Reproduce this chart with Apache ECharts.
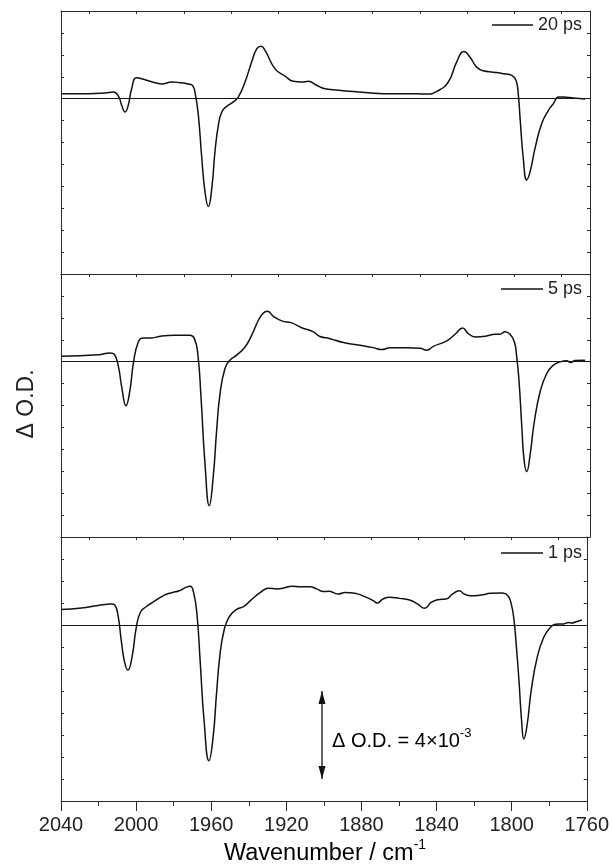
<!DOCTYPE html>
<html><head><meta charset="utf-8">
<script src="https://cdn.jsdelivr.net/npm/echarts@6/dist/echarts.min.js"></script>
<style>html,body{margin:0;padding:0;background:#fff}#c{width:612px;height:866px}</style>
</head><body><div id="c"></div>
<script>
// ---- data (ΔOD in units of 1e-3) ----
const wn20=[2040,2025.5,2016.7,2012.3,2009.6,2007.9,2006.1,2004.4,2002.6,2000,1995.5,1990.2,1986.7,1981.4,1977,1972.6,1970.5,1969.1,1967.3,1965.6,1963.8,1962,1960.2,1958.5,1956.7,1954.9,1952.3,1948.8,1946.1,1942.6,1939.1,1936.4,1934.1,1932,1926.7,1921.4,1917,1912.6,1909.1,1904.7,1900.2,1895.8,1885.3,1869.4,1857,1846.4,1841.1,1835,1830.6,1826.7,1823.5,1820,1816.4,1811.1,1805.8,1801.4,1799.1,1797.9,1797,1795.3,1793.5,1791.7,1789.1,1785.6,1782,1779.4,1776.7,1774.1,1768.8,1762.6];
const od20=[0.23,0.23,0.26,0.30,0.12,-0.30,-0.61,-0.30,0.45,0.95,0.86,0.73,0.67,0.76,0.73,0.67,0.61,0.30,-0.76,-2.58,-4.24,-4.92,-4.09,-2.42,-1.21,-0.61,-0.35,-0.15,0.08,0.76,1.67,2.27,2.39,2.20,1.36,1.03,0.79,0.76,0.79,0.61,0.45,0.41,0.33,0.23,0.23,0.21,0.33,0.76,1.67,2.15,1.89,1.44,1.27,1.21,1.14,1.06,0.83,0.15,-0.91,-2.73,-3.71,-3.33,-2.27,-1.14,-0.53,-0.23,0.08,0.08,0.03,-0.02];

const wn5=[2040,2020.2,2014,2011.8,2009.6,2007.9,2005.6,2003.5,2001.7,1999.1,1996.5,1992.9,1986.7,1979.6,1971.7,1969.4,1967.6,1965.9,1963.8,1961.5,1959.4,1957.6,1955.8,1953.2,1950.6,1947,1942.6,1939.1,1935.5,1932.9,1930.8,1927.6,1923.2,1917.9,1912.6,1906.4,1902.9,1897.6,1890.5,1881.7,1874.7,1870.3,1865.8,1857,1850,1846.4,1842.9,1835.8,1831.4,1827.4,1824.4,1820.8,1814.7,1810.3,1807.6,1805,1802.3,1800,1798.8,1797.6,1796.1,1794.9,1793.5,1791.7,1789.6,1786.4,1782.9,1779.4,1775.8,1772.3,1770.2,1767.9,1762.6];
const od5=[0.25,0.31,0.40,0.34,-0.23,-1.14,-2.01,-1.30,-0.08,0.90,1.08,1.08,1.17,1.20,1.20,1.05,0.37,-1.61,-4.64,-6.57,-5.23,-3.11,-1.45,-0.31,0.07,0.30,0.67,1.20,1.89,2.22,2.30,2.07,1.86,1.77,1.55,1.36,1.15,1.05,0.87,0.75,0.64,0.55,0.63,0.63,0.61,0.52,0.70,0.95,1.25,1.54,1.28,1.13,1.17,1.25,1.25,1.36,1.25,0.90,0.22,-0.84,-2.96,-4.48,-5.01,-4.25,-2.81,-1.37,-0.54,-0.16,-0.01,0.04,-0.04,0.05,0.07];

const wn1=[2040,2029.1,2020.2,2013.2,2011.4,2009.6,2007.9,2006.1,2004.4,2002.2,1999.9,1997.7,1994.7,1990.2,1984.9,1980.6,1977,1973.5,1971.2,1969.4,1967.6,1965.9,1963.8,1961.2,1959,1957.2,1955.3,1953.2,1950.6,1947,1942.6,1939.1,1933.8,1929.4,1925,1921.4,1917,1912.6,1907.3,1903.8,1900.2,1897.6,1892.3,1888.8,1883.5,1878.2,1873.8,1871.5,1868.5,1865,1859.7,1854.4,1850,1846.4,1842.9,1839.4,1835,1831.4,1827.9,1825.3,1821.7,1816.4,1811.1,1805,1802,1800.2,1798.8,1797.6,1796.1,1794.7,1793.5,1791.7,1789.6,1786.4,1782.9,1779.4,1776.7,1772.3,1769.7,1767.9,1766.1,1762.6];
const od1=[0.70,0.77,0.89,0.95,0.91,0.42,-0.71,-1.70,-2.05,-1.47,-0.11,0.58,0.83,1.08,1.36,1.48,1.56,1.71,1.76,1.48,0.50,-1.62,-4.35,-6.17,-5.11,-3.14,-1.32,-0.26,0.35,0.68,0.85,1.11,1.48,1.67,1.64,1.68,1.76,1.74,1.74,1.64,1.52,1.53,1.41,1.48,1.44,1.29,1.11,1.00,1.18,1.26,1.21,1.14,0.95,0.76,1.03,1.15,1.18,1.41,1.56,1.41,1.33,1.36,1.44,1.45,1.33,0.95,0.27,-0.86,-2.53,-4.35,-5.18,-4.50,-2.98,-1.47,-0.56,-0.11,0.03,0.05,0.11,0.09,0.14,0.23];

const panelNames=['20 ps','5 ps','1 ps'];
const xTickLabels=[2040,2000,1960,1920,1880,1840,1800,1760];
const scaleBarWn=1901, scaleBarFrom=-3, scaleBarTo=-7; // 4 x 1e-3

// ---- layout ----
const FONT='"Liberation Sans", Arial, Helvetica, sans-serif';
const AX='#2a2a2a';
const grids=[{left:61,right:22,top:11,height:263},{left:61,right:22,top:274,height:263},{left:61,right:22,top:537,height:264}];
const topCats=[]; for(let v=1760; v<=2040; v+=5) topCats.push(String(v));

const xAxis=[], yAxis=[], series=[];
const sets=[[wn20,od20],[wn5,od5],[wn1,od1]];
for(let i=0;i<3;i++){
  const isBottom=i===2;
  xAxis.push({type:'value',gridIndex:i,min:1760,max:2040,interval:isBottom?40:280,inverse:true,position:'bottom',
    axisLine:{show:true,onZero:false,lineStyle:{color:AX,width:1}},
    axisTick:{show:isBottom,inside:false,length:10,lineStyle:{color:AX,width:1}},
    minorTick:{show:isBottom,splitNumber:2,length:5,lineStyle:{color:AX,width:1}},
    axisLabel:{show:isBottom,fontSize:20,fontFamily:FONT,color:'#222',margin:14,
      formatter:v=>xTickLabels.indexOf(v)>=0?String(v):''},
    splitLine:{show:false}});
  yAxis.push({type:'value',gridIndex:i,min:-8,max:4,interval:1,position:'left',
    axisLine:{show:true,onZero:false,lineStyle:{color:AX,width:1}},
    axisTick:{show:true,inside:true,length:3,lineStyle:{color:AX}},
    axisLabel:{show:false},splitLine:{show:false}});
}
for(let i=0;i<3;i++){
  xAxis.push({type:'category',gridIndex:i,data:topCats,boundaryGap:false,inverse:true,position:'top',
    axisLine:{show:true,onZero:false,lineStyle:{color:AX,width:1}},
    axisTick:{show:true,inside:true,length:3,interval:(idx,val)=>Number(val)%25===0,lineStyle:{color:AX}},
    axisLabel:{show:false},splitLine:{show:false}});
  yAxis.push({type:'value',gridIndex:i,min:-8,max:4,interval:1,position:'right',
    axisLine:{show:true,onZero:false,lineStyle:{color:AX,width:1}},
    axisTick:{show:true,inside:true,length:3,lineStyle:{color:AX}},
    axisLabel:{show:false},splitLine:{show:false}});
}
for(let i=0;i<3;i++){
  const [w,o]=sets[i];
  series.push({type:'line',name:panelNames[i],xAxisIndex:i,yAxisIndex:i,
    data:w.map((x,k)=>[x,o[k]]),smooth:0.5,showSymbol:false,
    lineStyle:{color:'#111',width:1.5},z:3,
    markLine:{silent:true,symbol:'none',label:{show:false},
      lineStyle:{color:'#151515',width:1.1,type:'solid'},data:[{yAxis:0}]}});
}
series.push({type:'line',xAxisIndex:2,yAxisIndex:2,showSymbol:true,
  lineStyle:{color:'#111',width:1.3},itemStyle:{color:'#111'},
  data:[{value:[scaleBarWn,scaleBarFrom],symbol:'triangle',symbolSize:[7,13],symbolOffset:[0,6.5]},
        {value:[scaleBarWn,scaleBarTo],symbol:'path://M0,0L2,0L1,4Z',symbolSize:[7,13],symbolOffset:[0,-6.5]}]});

// legends & titles
const legendPos=[{x1:492,x2:533,y:25,tx:538},{x1:501,x2:543,y:289,tx:548},{x1:501,x2:543,y:553,tx:548}];
const graphic=[];
legendPos.forEach((p,i)=>{
  graphic.push({type:'line',shape:{x1:p.x1,y1:p.y,x2:p.x2,y2:p.y},style:{stroke:'#151515',lineWidth:1.3}});
  graphic.push({type:'text',x:p.tx,y:p.y,style:{text:panelNames[i],font:'18px '+FONT,fill:'#222',textAlign:'left',textVerticalAlign:'middle'}});
});
graphic.push({type:'text',x:27,y:404,rotation:Math.PI/2,style:{text:'Δ O.D.',font:'23px '+FONT,fill:'#222',textAlign:'center',textVerticalAlign:'middle'}});
graphic.push({type:'text',x:325,y:852,style:{text:'{a|Wavenumber / cm}{s|-1}',textAlign:'center',textVerticalAlign:'middle',
  rich:{a:{fontSize:23.5,fontFamily:FONT,color:'#222',verticalAlign:'bottom'},s:{fontSize:14,fontFamily:FONT,color:'#222',verticalAlign:'bottom',padding:[0,0,14,0]}}}});
graphic.push({type:'text',x:332,y:739,style:{text:'{a|Δ O.D. = 4×10}{s|-3}',textAlign:'left',textVerticalAlign:'middle',
  rich:{a:{fontSize:20,fontFamily:FONT,color:'#222',verticalAlign:'bottom'},s:{fontSize:13,fontFamily:FONT,color:'#222',verticalAlign:'bottom',padding:[0,0,12,0]}}}});

const chart=echarts.init(document.getElementById('c'),null,{renderer:'canvas'});
chart.setOption({animation:false,backgroundColor:'#fff',grid:grids,xAxis,yAxis,series,graphic});
</script></body></html>
